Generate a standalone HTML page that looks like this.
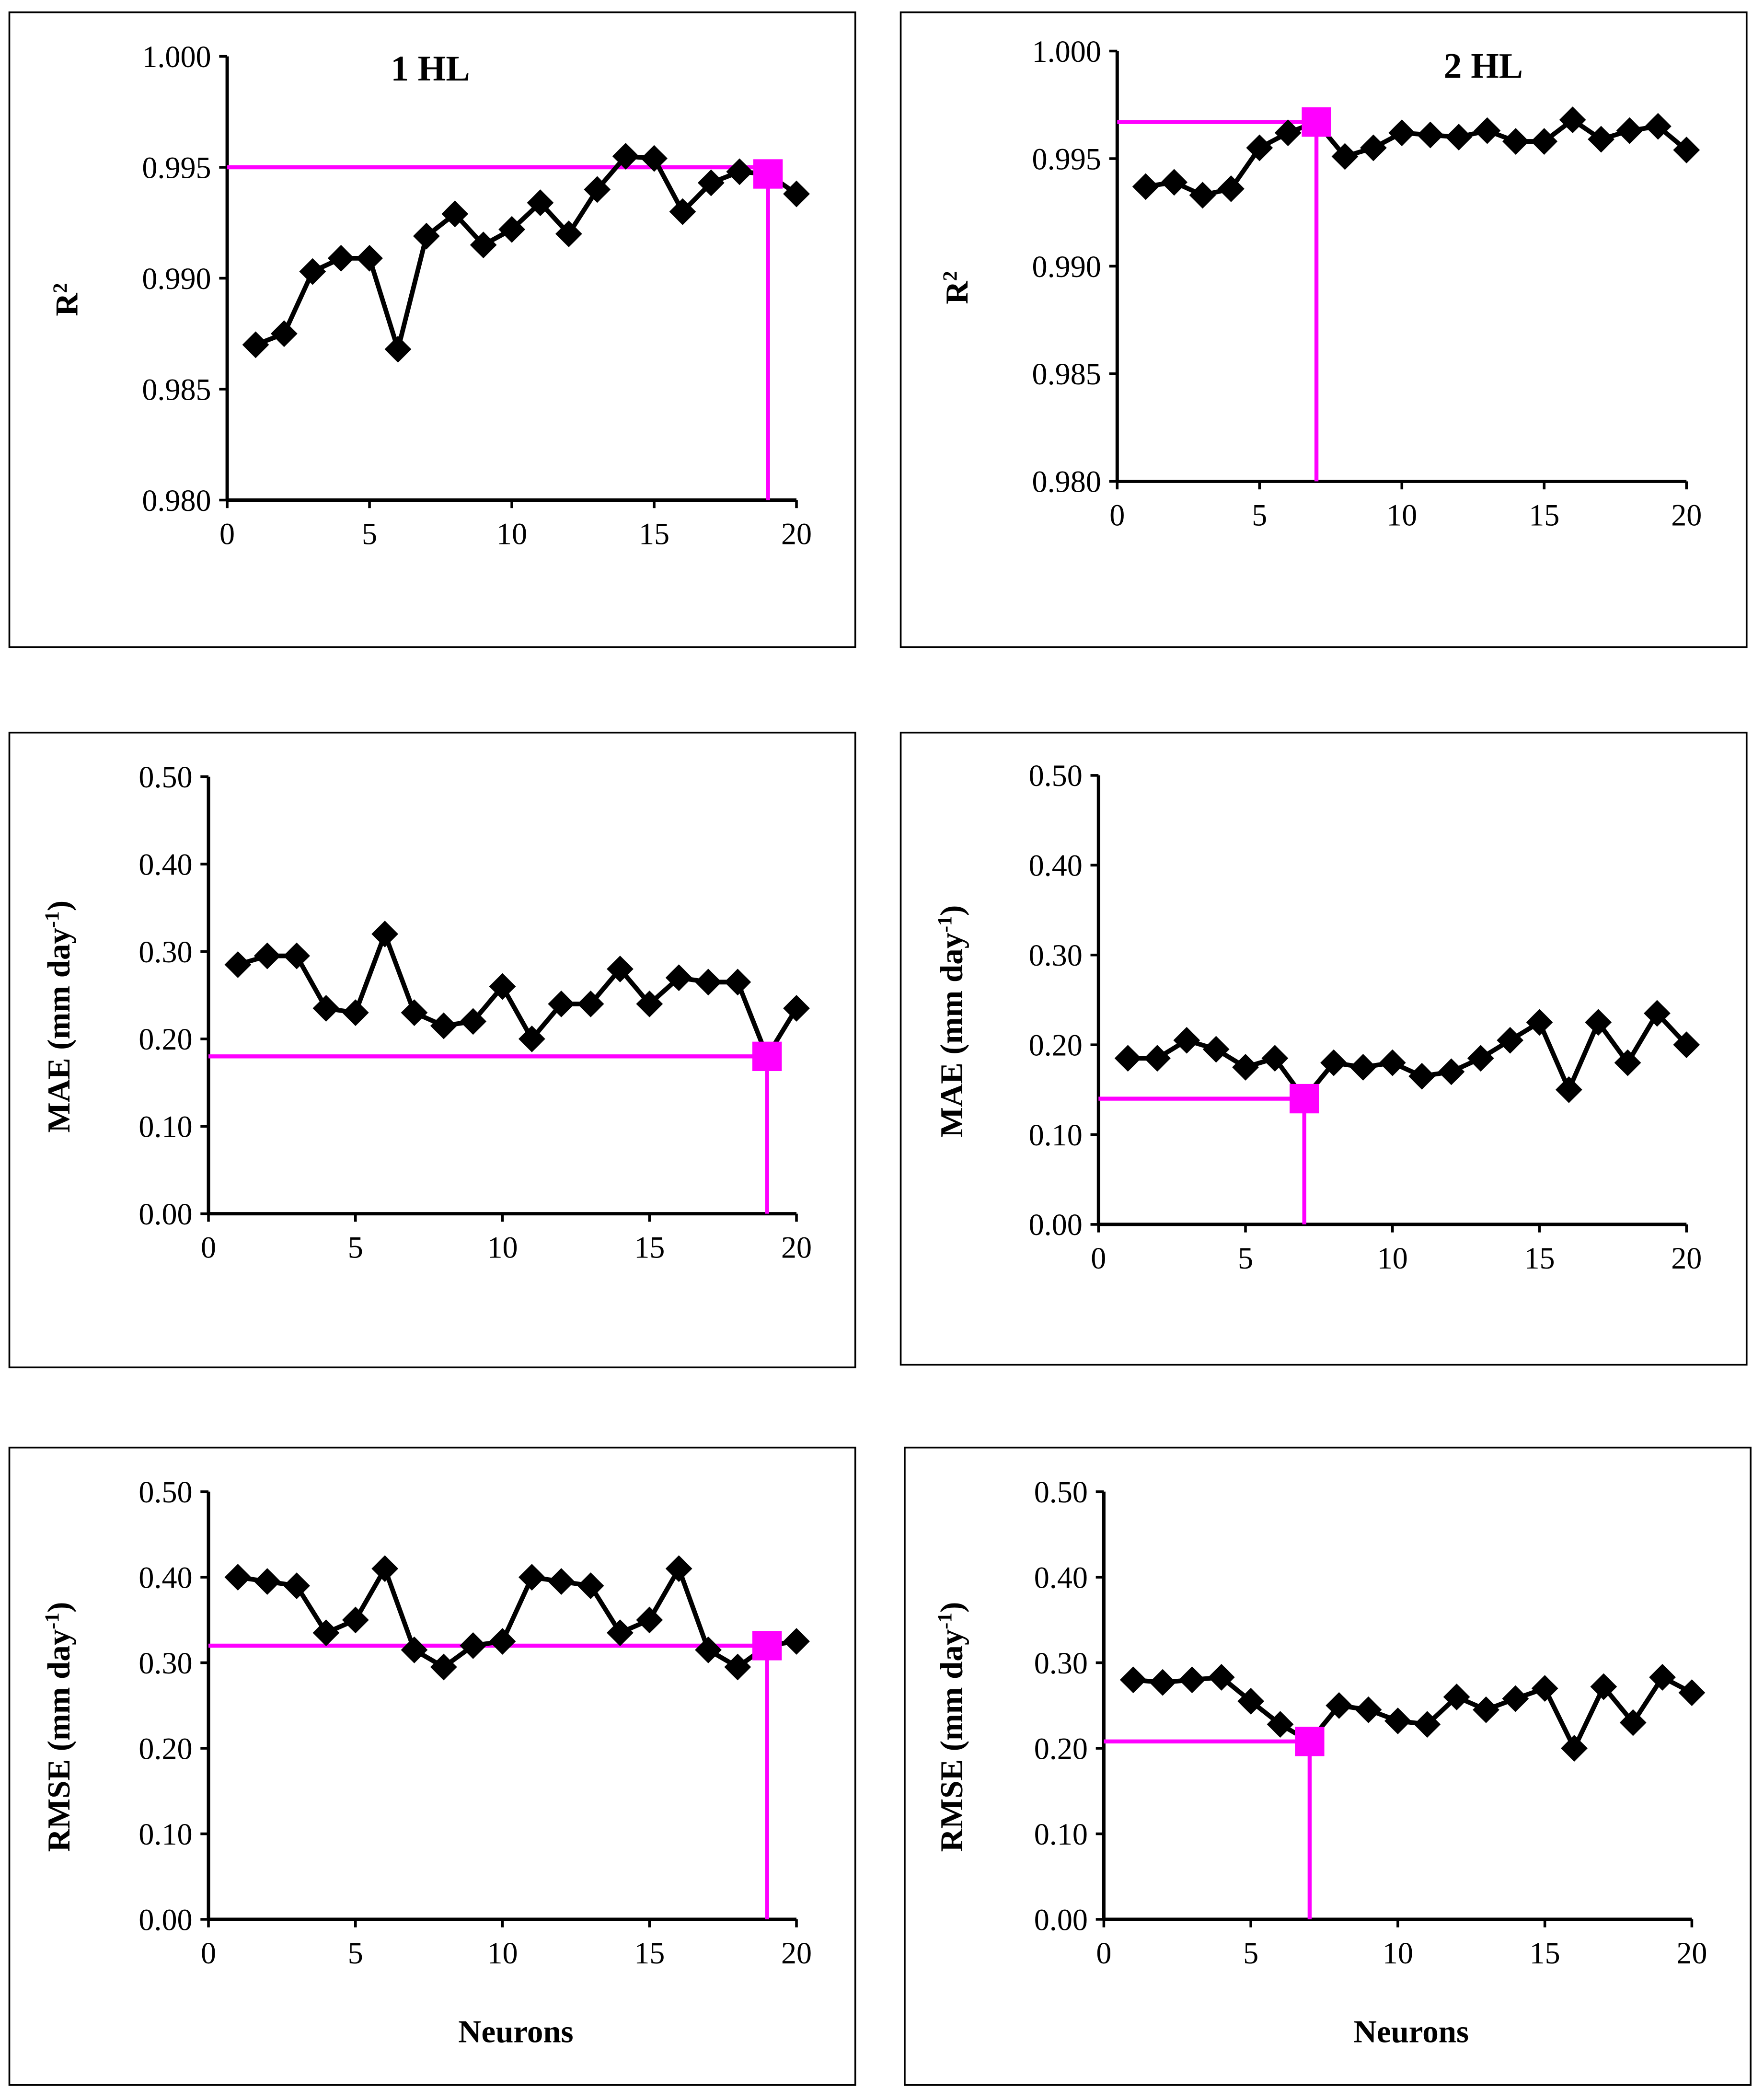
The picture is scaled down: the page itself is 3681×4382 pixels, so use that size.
<!DOCTYPE html>
<html><head><meta charset="utf-8"><style>
html,body{margin:0;padding:0;background:#fff}
svg{display:block}
text{font-family:"Liberation Serif",serif;fill:#000}
</style></head><body>
<svg id="c" width="3681" height="4382" viewBox="0 0 1320 1571" xmlns="http://www.w3.org/2000/svg"></svg>
<script>
const neurons=[1,2,3,4,5,6,7,8,9,10,11,12,13,14,15,16,17,18,19,20];
const r2_1hl=[0.9870,0.9875,0.9903,0.9909,0.9909,0.9868,0.9919,0.9929,0.9915,0.9922,0.9934,0.9920,0.9940,0.9955,0.9954,0.9930,0.9943,0.9948,0.9947,0.9938];
const r2_2hl=[0.9937,0.9939,0.9933,0.9936,0.9955,0.9962,0.9967,0.9951,0.9955,0.9962,0.9961,0.9960,0.9963,0.9958,0.9958,0.9968,0.9959,0.9963,0.9965,0.9954];
const mae_1hl=[0.285,0.295,0.295,0.235,0.23,0.32,0.23,0.215,0.22,0.26,0.20,0.24,0.24,0.28,0.24,0.27,0.265,0.265,0.18,0.235];
const mae_2hl=[0.185,0.185,0.205,0.195,0.175,0.185,0.14,0.18,0.175,0.18,0.165,0.17,0.185,0.205,0.225,0.15,0.225,0.18,0.235,0.2];
const rmse_1hl=[0.40,0.395,0.39,0.335,0.35,0.41,0.315,0.295,0.32,0.325,0.40,0.395,0.39,0.335,0.35,0.41,0.315,0.295,0.32,0.325];
const rmse_2hl=[0.28,0.277,0.28,0.283,0.255,0.228,0.208,0.25,0.245,0.232,0.228,0.26,0.245,0.258,0.27,0.2,0.272,0.23,0.283,0.265];
const xTicks=[0,5,10,15,20];
const r2Ticks=[0.980,0.985,0.990,0.995,1.000];
const errTicks=[0,0.1,0.2,0.3,0.4,0.5];
const best1=19, best2=7;
const r2Ref1=0.995;

const NS="http://www.w3.org/2000/svg";
const svg=document.getElementById('c');
function mk(tag,attrs,parent){const e=document.createElementNS(NS,tag);for(const k in attrs)e.setAttribute(k,attrs[k]);(parent||svg).appendChild(e);return e;}

function panel(cfg){
  const g=mk('g',{});
  
  
  const box=mk('rect',{x:cfg.box[0],y:cfg.box[1],width:cfg.box[2],height:cfg.box[3],fill:'none',stroke:'#000','stroke-width':1.3},g);
  
  
  const [x0,x1,yb,yt]=cfg.px;
  const ymin=cfg.ticks[0],ymax=cfg.ticks[cfg.ticks.length-1];
  const X=v=>x0+(v-0)/(20-0)*(x1-x0);
  const Y=v=>yb-(v-ymin)/(ymax-ymin)*(yb-yt);
  const ya=mk('line',{x1:x0,y1:yt,x2:x0,y2:yb,stroke:'#000','stroke-width':2.5},g);
  
  
  const xa=mk('line',{x1:x0,y1:yb,x2:x1,y2:yb,stroke:'#000','stroke-width':2.5},g);
  
  
  cfg.ticks.forEach(t=>{
    mk('line',{x1:x0-6,y1:Y(t),x2:x0,y2:Y(t),stroke:'#000','stroke-width':2},g);
    const tx=mk('text',{x:x0-12,y:Y(t)+8,'text-anchor':'end','font-size':23},g);
    tx.textContent=t.toFixed(cfg.dec);
    
    
  });
  xTicks.forEach(t=>{
    mk('line',{x1:X(t),y1:yb,x2:X(t),y2:yb+6,stroke:'#000','stroke-width':2},g);
    const tx=mk('text',{x:X(t),y:yb+33,'text-anchor':'middle','font-size':23},g);
    tx.textContent=t;
    
    
  });
  const yt2=mk('text',{x:0,y:0,'text-anchor':'middle','font-size':24,'font-weight':'bold',transform:`translate(${cfg.titleX},${(yt+yb)/2+16}) rotate(-90)`},g);
  yt2.innerHTML=cfg.ytitle;
  
  
  if(cfg.label){
    const l=mk('text',{x:cfg.label[1],y:cfg.label[2],'text-anchor':'middle','font-size':27,'font-weight':'bold'},g);
    l.textContent=cfg.label[0];
    
    
  }
  if(cfg.xtitle){
    const l=mk('text',{x:(x0+x1)/2+10,y:cfg.box[1]+cfg.box[3]-32,'text-anchor':'middle','font-size':24,'font-weight':'bold'},g);
    l.textContent='Neurons';
    
    
  }
  const bi=cfg.best-1;
  const refY=cfg.refVal!==undefined?cfg.refVal:cfg.data[bi];
  const h=mk('line',{x1:x0,y1:Y(refY),x2:X(cfg.best),y2:Y(refY),stroke:'#ff00ff','stroke-width':3},g);
  
  
  const v=mk('line',{x1:X(cfg.best),y1:Y(refY),x2:X(cfg.best),y2:yb,stroke:'#ff00ff','stroke-width':3},g);
  
  
  const pts=neurons.map((n,i)=>X(n)+','+Y(cfg.data[i])).join(' ');
  const pl=mk('polyline',{points:pts,fill:'none',stroke:'#000','stroke-width':3.5},g);
  
  
  neurons.forEach((n,i)=>{
    if(i===bi)return;
    const cx=X(n),cy=Y(cfg.data[i]);
    const d=mk('polygon',{points:`${cx},${cy-10} ${cx+10},${cy} ${cx},${cy+10} ${cx-10},${cy}`,fill:'#000'},g);
    
    
  });
  const cx=X(cfg.best),cy=Y(cfg.data[bi]);
  const s=mk('rect',{x:cx-11,y:cy-11,width:22,height:22,fill:'#ff00ff'},g);
  
  
}
const R2T='R<tspan font-size="15" dy="-8">2</tspan>';
const MAET='MAE (mm day<tspan font-size="15" dy="-8">-1</tspan><tspan dy="8">)</tspan>';
const RMSET='RMSE (mm day<tspan font-size="15" dy="-8">-1</tspan><tspan dy="8">)</tspan>';
panel({name:'r2-1hl-panel',box:[7,9,633,475],px:[170,596,374,42],ticks:r2Ticks,dec:3,data:r2_1hl,best:best1,refVal:r2Ref1,ytitle:R2T,titleX:58,label:['1 HL',322,60]});
panel({name:'r2-2hl-panel',box:[674,9,633,475],px:[836,1262,360,38],ticks:r2Ticks,dec:3,data:r2_2hl,best:best2,ytitle:R2T,titleX:724,label:['2 HL',1110,58]});
panel({name:'mae-1hl-panel',box:[7,548,633,475],px:[156,596,908,581],ticks:errTicks,dec:2,data:mae_1hl,best:best1,ytitle:MAET,titleX:52});
panel({name:'mae-2hl-panel',box:[674,548,633,473],px:[822,1262,916,580],ticks:errTicks,dec:2,data:mae_2hl,best:best2,ytitle:MAET,titleX:720});
panel({name:'rmse-1hl-panel',box:[7,1083,633,477],px:[156,596,1436,1116],ticks:errTicks,dec:2,data:rmse_1hl,best:best1,ytitle:RMSET,titleX:52,xtitle:true});
panel({name:'rmse-2hl-panel',box:[677,1083,633,477],px:[826,1266,1436,1116],ticks:errTicks,dec:2,data:rmse_2hl,best:best2,ytitle:RMSET,titleX:720,xtitle:true});
</script>
</body></html>
